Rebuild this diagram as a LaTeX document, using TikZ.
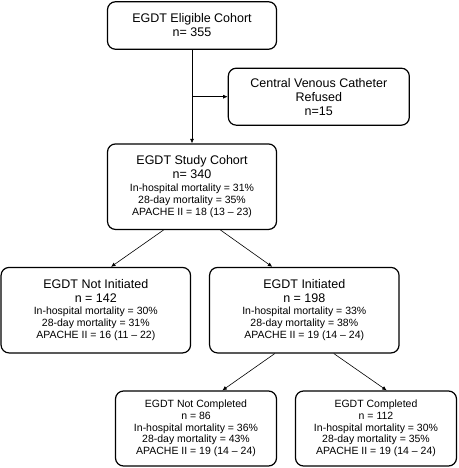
\documentclass[tikz,border=0pt]{standalone}
\usepackage{fontspec}
\setmainfont{Liberation Sans}
\usetikzlibrary{positioning,arrows.meta}
\newcommand{\bigtxt}{\fontsize{12.5}{14}\selectfont}
\newcommand{\smalltxt}{\fontsize{10.5}{12}\selectfont}
\tikzset{
  flow-box/.style={draw, line width=1.2pt, rounded corners=8pt, align=center,
                   inner sep=0pt, font=\bigtxt},
  sub-box/.style={flow-box, font=\fontsize{10.5}{11.7}\selectfont},
  flow-arrow/.style={line width=0.6pt, -{Latex[length=4.5pt,width=4pt]}},
}

\begin{document}
\begin{tikzpicture}[x=1pt,y=1pt]
  \useasboundingbox (0,0) rectangle (458,468);

  % cohort boxes
  \node[flow-box, minimum width=169pt, minimum height=47.5pt] (elig) at (192,442.5)
    {EGDT Eligible Cohort\\n= 355};
  \node[flow-box, minimum width=181pt, minimum height=57pt] (cvc) at (318.8,371.3)
    {Central Venous Catheter\\Refused\\n=15};
  \node[flow-box, minimum width=169pt, minimum height=85.5pt] (study) at (192,281.3)
    {EGDT Study Cohort\\n= 340\\[-1.5pt]
     \smalltxt In-hospital mortality = 31\%\\[-2pt]
     \smalltxt 28-day mortality = 35\%\\[-2pt]
     \smalltxt APACHE II = 18 (13 -- 23)};

  \node[flow-box, minimum width=189.5pt, minimum height=85.5pt] (notinit) at (95.8,157.8)
    {EGDT Not Initiated\\n = 142\\[-1.5pt]
     \smalltxt In-hospital mortality = 30\%\\[-2pt]
     \smalltxt 28-day mortality = 31\%\\[-2pt]
     \smalltxt APACHE II = 16 (11 -- 22)};
  \node[flow-box, minimum width=189.5pt, minimum height=85.5pt] (init) at (304.3,157.8)
    {EGDT Initiated\\n = 198\\[-1.5pt]
     \smalltxt In-hospital mortality = 33\%\\[-2pt]
     \smalltxt 28-day mortality = 38\%\\[-2pt]
     \smalltxt APACHE II = 19 (14 -- 24)};

  \node[sub-box, minimum width=161pt, minimum height=75pt] (notcomp) at (196,39.5)
    {EGDT Not Completed\\n = 86\\In-hospital mortality = 36\%\\
     28-day mortality = 43\%\\APACHE II = 19 (14 -- 24)};
  \node[sub-box, minimum width=161pt, minimum height=75pt] (comp) at (376,39.5)
    {EGDT Completed\\n = 112\\In-hospital mortality = 30\%\\
     28-day mortality = 35\%\\APACHE II = 19 (14 -- 24)};

  % connectors
  \draw[flow-arrow] (elig.south) -- (study.north);
  \coordinate (split) at (elig.south |- cvc.west);
  \draw[flow-arrow] (split) -- (cvc.west);

  \draw[flow-arrow] ([xshift=-28.5pt]study.south) -- ([xshift=15.2pt]notinit.north);
  \draw[flow-arrow] ([xshift=28.5pt]study.south) -- ([xshift=-32pt]init.north);

  \draw[flow-arrow] ([xshift=-29.5pt]init.south) -- ([xshift=26.3pt]notcomp.north);
  \draw[flow-arrow] ([xshift=29.5pt]init.south) -- ([xshift=10.7pt]comp.north);
\end{tikzpicture}
\end{document}
